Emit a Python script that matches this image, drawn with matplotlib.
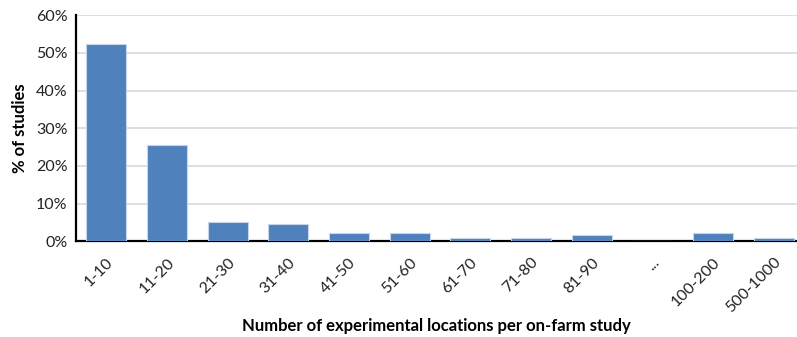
import matplotlib
matplotlib.use("Agg")
import matplotlib.pyplot as plt
from matplotlib.ticker import PercentFormatter

categories = ["1-10", "11-20", "21-30", "31-40", "41-50", "51-60",
              "61-70", "71-80", "81-90", "...", "100-200", "500-1000"]
pct_studies = [52.3, 25.5, 5.0, 4.5, 2.2, 2.2, 1.0, 1.0, 1.7, 0.0, 2.2, 1.0]
y_ticks = [0, 10, 20, 30, 40, 50, 60]

plt.rcParams['font.family'] = ['Lato', 'DejaVu Sans']

fig = plt.figure(figsize=(7.97, 3.37), dpi=100)
ax = fig.add_axes([76 / 797, (337 - 241.3) / 337, 728 / 797, 226 / 337])

x = range(len(categories))
ax.bar(x, pct_studies, width=0.66, color="#4f81bd", edgecolor="#c6d5ea",
       linewidth=0.8, zorder=3)

ax.set_xlim(-0.5, len(categories) - 0.5)
ax.set_ylim(0, 60)
ax.set_yticks(y_ticks)
ax.yaxis.set_major_formatter(PercentFormatter(decimals=0))
ax.set_xticks(list(x))
ax.set_xticklabels(categories, rotation=45, ha="right", rotation_mode="anchor")

ax.grid(axis="y", color="#d9d9d9", linewidth=1.2, zorder=0)
ax.tick_params(axis="both", length=0, labelsize=11.5, colors="#222222")
ax.tick_params(axis="x", pad=10)
ax.tick_params(axis="y", pad=6)

for side in ["top", "right"]:
    ax.spines[side].set_visible(False)
for side in ["left", "bottom"]:
    ax.spines[side].set_color("black")
    ax.spines[side].set_linewidth(1.6)

ax.set_ylabel("% of studies", fontsize=12, fontweight="bold", labelpad=6)
fig.text(436 / 797, 1 - 326 / 337, "Number of experimental locations per on-farm study",
         ha="center", va="center", fontsize=12, fontweight="bold")

fig.savefig("out.png", dpi=100)
